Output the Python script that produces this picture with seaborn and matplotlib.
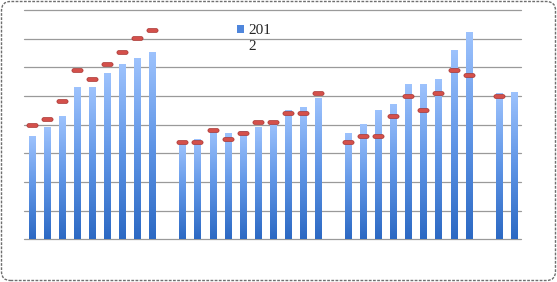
import numpy as np
import pandas as pd
import matplotlib
matplotlib.use("Agg")
import matplotlib.pyplot as plt
import seaborn as sns
from matplotlib.colors import LinearSegmentedColormap
from matplotlib.patches import FancyBboxPatch, Patch
from matplotlib import patheffects

nan = np.nan

# ---- data (gaps are empty category slots) ----
slots = [f"s{i:02d}" for i in range(1, 34)]
bars_2012 = [3.61, 3.93, 4.31, 5.31, 5.31, 5.81, 6.13, 6.33, 6.54, nan,
             3.38, 3.49, 3.85, 3.70, 3.79, 3.91, 4.09, 4.51, 4.61, 4.92, nan,
             3.70, 4.01, 4.51, 4.71, 5.41, 5.41, 5.60, 6.61, 7.22, nan,
             5.12, 5.13]
markers = [4.00, 4.20, 4.82, 5.91, 5.60, 6.12, 6.52, 7.01, 7.30, nan,
           3.40, 3.40, 3.80, 3.50, 3.71, 4.10, 4.10, 4.41, 4.41, 5.10, nan,
           3.40, 3.59, 3.59, 4.31, 5.01, 4.52, 5.12, 5.92, 5.72, nan,
           5.01, nan]
legend_label = "201\n2"
y_ticks = [0, 1, 2, 3, 4, 5, 6, 7, 8]

df = pd.DataFrame({"slot": slots, "bar": bars_2012, "marker": markers})

sns.set_theme(style="white")
plt.rcParams["font.family"] = ["Liberation Serif", "DejaVu Serif"]

fig = plt.figure(figsize=(5.57, 2.82), dpi=100)
ax = fig.add_axes([24.3 / 557, (282 - 239.3) / 282, 497 / 557, 229.3 / 282])

sns.barplot(data=df.dropna(subset=["bar"]), x="slot", y="bar", order=slots,
            width=0.4, color="#5b8fe0", ax=ax, zorder=2, linewidth=0)

# vertical gradient for each bar
cmap = LinearSegmentedColormap.from_list("bg", ["#2c69c3", "#5f95e6", "#9ec3fd"])
grad = np.linspace(0, 1, 256).reshape(-1, 1)
for p in list(ax.patches):
    x0, w, h = p.get_x(), p.get_width(), p.get_height()
    if not np.isfinite(h) or h <= 0:
        continue
    im = ax.imshow(grad, extent=[x0, x0 + w, 0, h], origin="lower",
                   aspect="auto", cmap=cmap, zorder=2, interpolation="bilinear")
    im.set_clip_path(p)
    p.set_facecolor("none")

# red dash markers (capsule shape)
t = np.linspace(-np.pi / 2, np.pi / 2, 8)
r = 0.34
right = np.column_stack([1 - r + r * np.cos(t), r * np.sin(t)])
left = np.column_stack([-(1 - r) - r * np.cos(t), -r * np.sin(t)])
capsule = np.vstack([right, left, right[:1]])

sns.stripplot(data=df.dropna(subset=["marker"]), x="slot", y="marker", order=slots,
              jitter=False, marker=capsule, s=8, color="#d4504b",
              edgecolor="#a8322e", linewidth=0.5, ax=ax, zorder=4)
coll = ax.collections[-1]
coll.set_path_effects([patheffects.SimplePatchShadow(offset=(0.8, -2), shadow_rgbFace="#8a8a8a", alpha=0.5),
                       patheffects.Normal()])

ax.set_xlim(-0.5, len(slots) - 0.5)
ax.set_ylim(0, 8)
ax.set_yticks(y_ticks)
ax.set_xticks([])
ax.yaxis.grid(True, color="#9a9a9a", linewidth=0.9)
ax.set_axisbelow(True)
ax.tick_params(left=False, labelleft=False, bottom=False)
ax.set_xlabel("")
ax.set_ylabel("")
for s in ax.spines.values():
    s.set_visible(False)
for gl in ax.yaxis.get_gridlines():
    gl.set_clip_on(False)

leg = ax.legend(handles=[Patch(facecolor="#4f86dc", edgecolor="none")], labels=[legend_label],
                loc="upper left", bbox_to_anchor=((237 - 24.3) / 497, (239.3 - 24.5) / 229.3),
                frameon=False, fontsize=11, handlelength=0.45, handleheight=0.45,
                handletextpad=0.3, borderpad=0, borderaxespad=0, labelspacing=0)
for hp in leg._legend_handle_box.get_children():
    for item in hp.get_children():
        item.align = "top"

# outer rounded dashed border
border = FancyBboxPatch((1.5, 1.5), 554, 279, boxstyle="round,pad=0,rounding_size=9",
                        transform=None, facecolor="none", edgecolor="#6f6f6f",
                        linewidth=1, linestyle=(0, (2, 1)))
fig.add_artist(border)

fig.savefig("out.png", dpi=100, facecolor="white")
